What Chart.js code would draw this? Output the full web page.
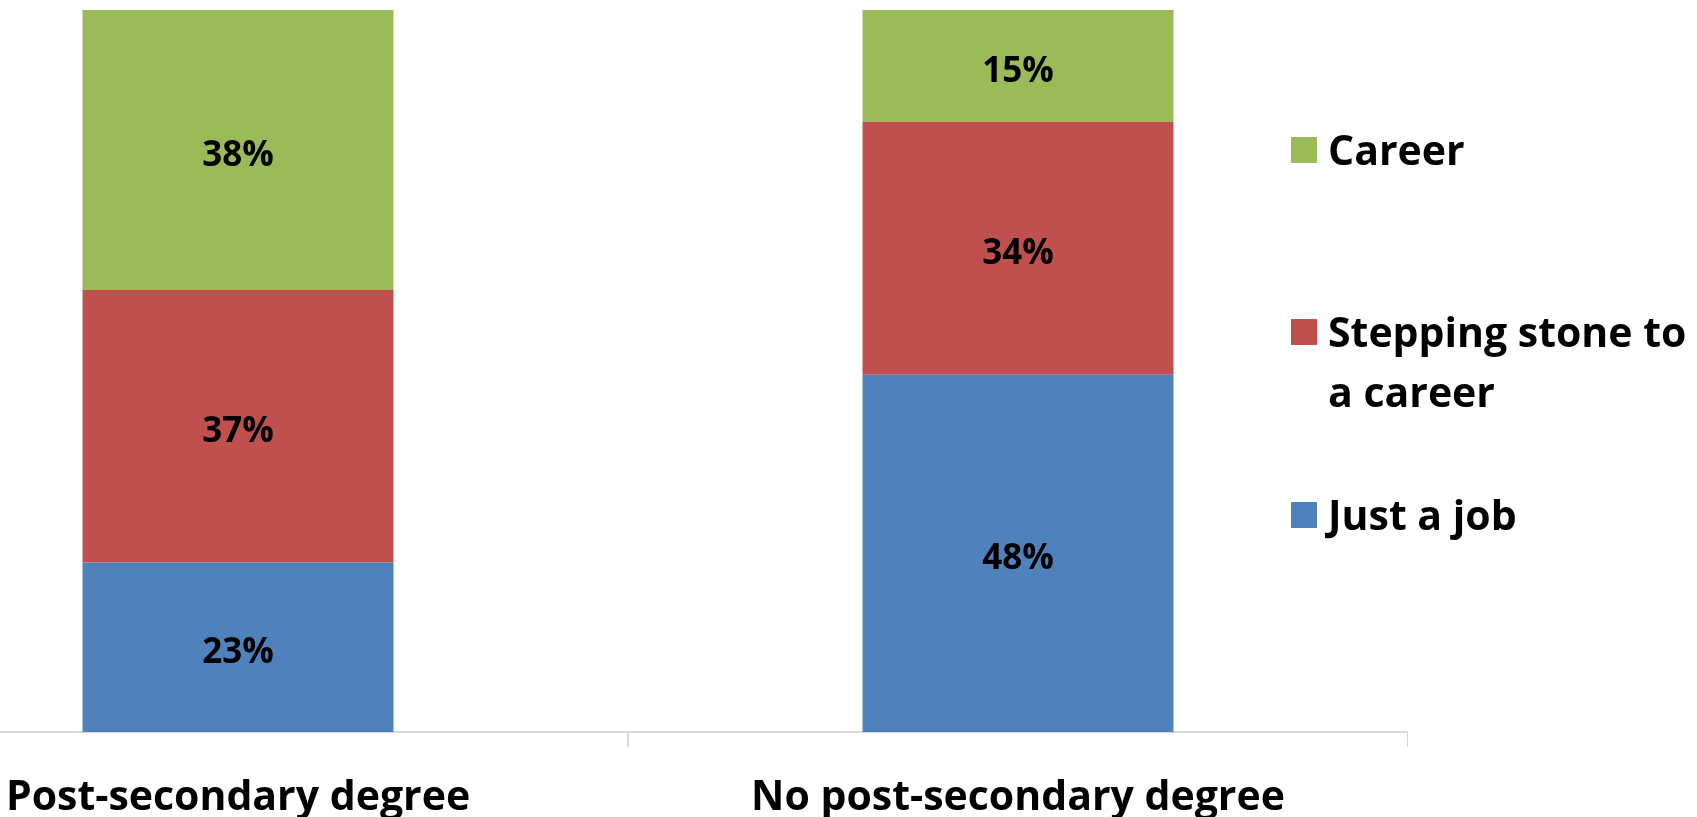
<!DOCTYPE html>
<html>
<head>
<meta charset="utf-8">
<script src="https://cdn.jsdelivr.net/npm/chart.js@4/dist/chart.umd.min.js"></script>
<style>
  html, body { margin: 0; padding: 0; background: #ffffff; overflow: hidden; }
  body { width: 1697px; height: 817px; position: relative; font-family: 'Open Sans', sans-serif; }
  #wrap { position: absolute; left: -152px; top: 0; width: 1560px; height: 817px; }
  #legend { position: absolute; left: 1291px; top: -3px; }
  .item { position: absolute; left: 0; width: 406px; }
  .sw { position: absolute; left: 0; width: 26px; height: 26px; top: 18px; }
  .txt { position: absolute; left: 37px; width: 362px; font-weight: 700; font-size: 41px; line-height: 60px; color: #000; }
</style>
</head>
<body>
<div id="wrap"><canvas id="c"></canvas></div>
<div id="legend"></div>
<script>
const categories = ['Post-secondary degree', 'No post-secondary degree'];
const seriesNames = ['Just a job', 'Stepping stone to a career', 'Career'];
const justAJob = [23, 48];
const steppingStone = [37, 34];
const career = [38, 15];

const seriesValues = [justAJob, steppingStone, career];
const seriesColors = ['#4F81BD', '#C0504D', '#9BBB59'];
const legendCenters = [517, 334, 152];

const totals = categories.map((_, i) => seriesValues.reduce((s, arr) => s + arr[i], 0));

const datasets = seriesValues.map((vals, k) => ({
  label: seriesNames[k],
  data: vals.map((v, i) => v / totals[i] * 100),
  raw: vals,
  backgroundColor: seriesColors[k],
  borderWidth: 0,
  barPercentage: 0.3987,
  categoryPercentage: 1.0
}));

const labelPlugin = {
  id: 'segLabels',
  afterDatasetsDraw(chart) {
    const ctx = chart.ctx;
    ctx.save();
    ctx.font = '700 35px "Open Sans"';
    ctx.fillStyle = '#000';
    ctx.textAlign = 'center';
    ctx.textBaseline = 'middle';
    chart.data.datasets.forEach((ds, di) => {
      const meta = chart.getDatasetMeta(di);
      meta.data.forEach((bar, i) => {
        const y = (bar.y + bar.base) / 2 + 6;
        ctx.fillText(ds.raw[i] + '%', bar.x, y);
      });
    });
    ctx.restore();
  }
};

new Chart(document.getElementById('c'), {
  type: 'bar',
  data: { labels: categories, datasets: datasets },
  options: {
    responsive: true,
    maintainAspectRatio: false,
    animation: false,
    layout: { padding: { top: 10, left: 0, right: 0, bottom: 0 } },
    plugins: { legend: { display: false }, tooltip: { enabled: false } },
    scales: {
      x: {
        stacked: true,
        grid: { display: true, drawOnChartArea: false, drawTicks: true, tickLength: 15, color: '#d9d9d9', lineWidth: 2 },
        border: { display: true, color: '#d9d9d9', width: 2 },
        ticks: { color: '#000', font: { family: 'Open Sans', size: 41, weight: '700' }, padding: 27, maxRotation: 0, autoSkip: false },
        afterFit(scale) { scale.height = 85; }
      },
      y: {
        stacked: true,
        display: false,
        min: 0,
        max: 100
      }
    }
  },
  plugins: [labelPlugin]
});

const legend = document.getElementById('legend');
for (let k = seriesNames.length - 1; k >= 0; k--) {
  const item = document.createElement('div');
  item.className = 'item';
  item.style.top = (legendCenters[k] - 30) + 'px';
  const sw = document.createElement('div');
  sw.className = 'sw';
  sw.style.background = seriesColors[k];
  const t = document.createElement('div');
  t.className = 'txt';
  t.textContent = seriesNames[k];
  item.appendChild(sw);
  item.appendChild(t);
  legend.appendChild(item);
}
</script>
</body>
</html>
